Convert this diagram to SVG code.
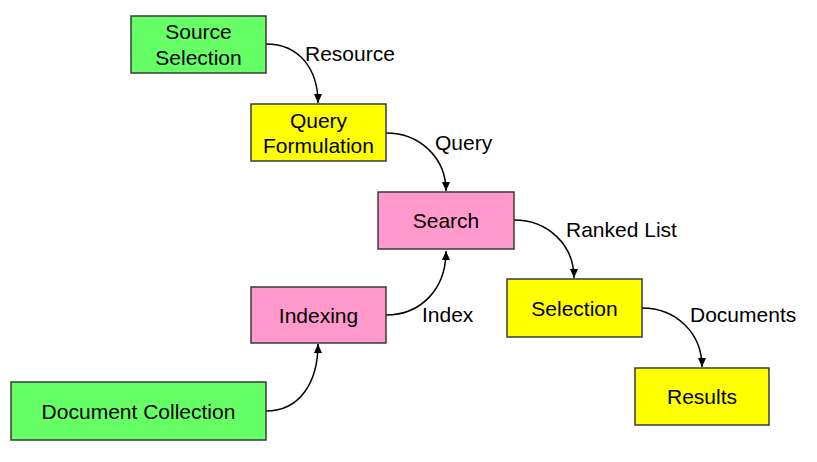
<svg xmlns="http://www.w3.org/2000/svg" width="817" height="462" viewBox="0 0 817 462">
  <defs>
    <marker id="arrow" markerWidth="10" markerHeight="10" refX="9" refY="5" orient="auto" markerUnits="userSpaceOnUse">
      <path d="M0,1 L9,5 L0,9 Z" fill="#000"/>
    </marker>
    <style>
      .box { stroke: #3a3a3a; stroke-width: 1.5; }
      .green { fill: #66FF66; }
      .yellow { fill: #FFFF00; }
      .pink { fill: #FF99CC; }
      text { font-family: "Liberation Sans", Arial, sans-serif; font-size: 21px; fill: #000; }
      .mid { text-anchor: middle; }
      .edge { fill: none; stroke: #000; stroke-width: 1.5; marker-end: url(#arrow); }
    </style>
  </defs>
  <rect width="817" height="462" fill="#fff"/>

  <g id="connectors">
    <path class="edge" d="M266,44 C300,44 318,70 318,103"/>
    <path class="edge" d="M386,133 C420,133 446,158 446,191"/>
    <path class="edge" d="M514,220 C548,220 574,245 574,278"/>
    <path class="edge" d="M642,308 C676,308 702,333 702,367"/>
    <path class="edge" d="M386,315 C420,315 446,290 446,251"/>
    <path class="edge" d="M266,411 C300,411 318,382 318,344"/>
  </g>

  <g id="labels">
    <text x="305" y="61">Resource</text>
    <text x="435" y="150">Query</text>
    <text x="566" y="237">Ranked List</text>
    <text x="422" y="322">Index</text>
    <text x="690" y="322">Documents</text>
  </g>

  <g id="source-selection">
    <rect class="box green" x="131" y="16" width="135" height="57"/>
    <text class="mid" x="198.5" y="39">Source</text>
    <text class="mid" x="198.5" y="65">Selection</text>
  </g>

  <g id="query-formulation">
    <rect class="box yellow" x="251" y="104" width="135" height="57"/>
    <text class="mid" x="318.5" y="128">Query</text>
    <text class="mid" x="318.5" y="153">Formulation</text>
  </g>

  <g id="search">
    <rect class="box pink" x="378" y="192" width="136" height="57"/>
    <text class="mid" x="446" y="228">Search</text>
  </g>

  <g id="indexing">
    <rect class="box pink" x="251" y="287" width="135" height="56"/>
    <text class="mid" x="318.5" y="323">Indexing</text>
  </g>

  <g id="document-collection">
    <rect class="box green" x="11" y="382" width="255" height="58"/>
    <text class="mid" x="138.5" y="419">Document Collection</text>
  </g>

  <g id="selection">
    <rect class="box yellow" x="507" y="279" width="135" height="58"/>
    <text class="mid" x="574.5" y="316">Selection</text>
  </g>

  <g id="results">
    <rect class="box yellow" x="635" y="368" width="134" height="57"/>
    <text class="mid" x="702" y="404">Results</text>
  </g>
</svg>
